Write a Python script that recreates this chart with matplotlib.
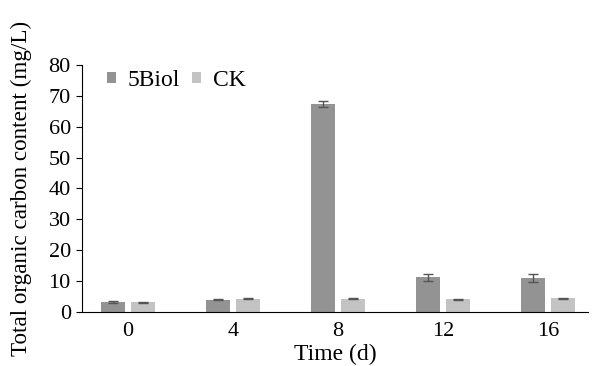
import matplotlib.pyplot as plt
import numpy as np

plt.rcParams['font.family'] = ['Liberation Serif', 'DejaVu Serif']

# Data
days = ['0', '4', '8', '12', '16']
biol = [3.2, 4.0, 67.3, 11.2, 11.0]
biol_err = [0.3, 0.2, 1.0, 1.1, 1.2]
ck = [3.1, 4.3, 4.3, 4.1, 4.4]
ck_err = [0.3, 0.2, 0.2, 0.15, 0.2]

x = np.arange(len(days))
w = 0.23
off = 0.143

fig = plt.figure(figsize=(6.02, 3.66), dpi=100)
ax = fig.add_axes([0.136, 0.1475, 0.841, 0.675])

err_kw = dict(ecolor='#555555', elinewidth=1, capsize=3.5, capthick=1)
ax.bar(x - off, biol, w, yerr=biol_err, color='#939393', label='5Biol', error_kw=err_kw)
ax.bar(x + off, ck, w, yerr=ck_err, color='#c3c3c3', label='CK', error_kw=err_kw)

ax.set_xlim(-0.44, 4.38)
ax.set_ylim(0, 80)
ax.set_yticks(range(0, 81, 10))
ax.set_xticks(x)
ax.set_xticklabels(days)
ax.tick_params(axis='x', length=0, labelsize=16, pad=7)
ax.tick_params(axis='y', length=4, labelsize=16, direction='out', pad=4)
ax.spines['top'].set_visible(False)
ax.spines['right'].set_visible(False)
ax.set_xlabel('Time (d)', fontsize=17, labelpad=2)
ax.set_ylabel('Total organic carbon content (mg/L)', fontsize=16.7, labelpad=12)

ax.legend(loc='upper left', bbox_to_anchor=(0.049, 0.98), ncol=2, frameon=False,
          fontsize=17, handlelength=0.4, handleheight=0.4, handletextpad=0.5,
          columnspacing=0.48, borderaxespad=0, borderpad=0)

fig.savefig('out.png', dpi=100)
